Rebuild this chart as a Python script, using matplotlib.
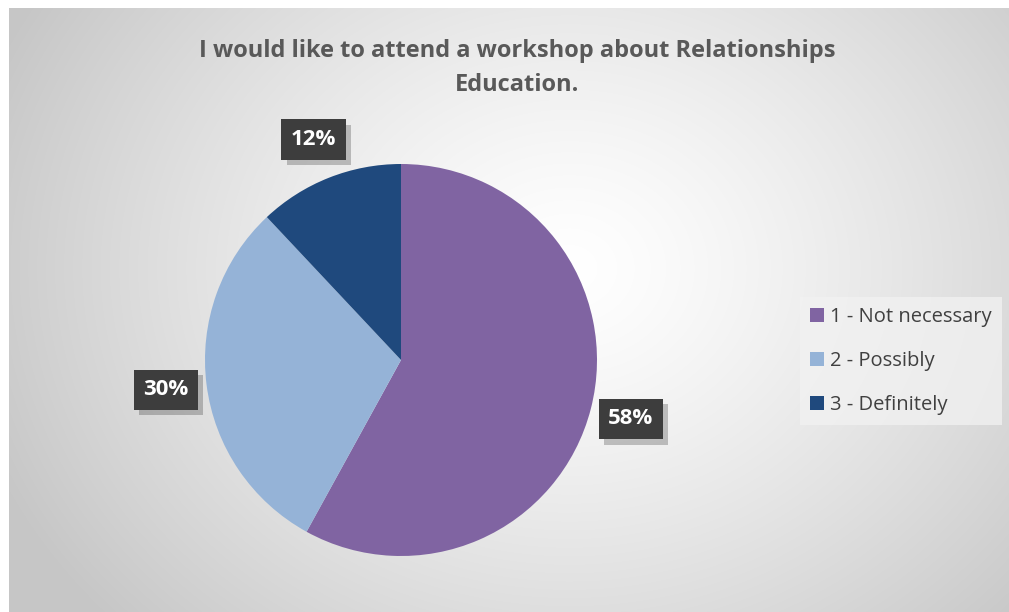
import numpy as np
import matplotlib
matplotlib.use("Agg")
import matplotlib.pyplot as plt
from matplotlib.patches import Patch
import matplotlib.patheffects as pe

title = "I would like to attend a workshop about Relationships\nEducation."
categories = ["1 - Not necessary", "2 - Possibly", "3 - Definitely"]
values = [58, 30, 12]
colors = ["#8064A2", "#95B3D7", "#1F497D"]

FONT = "Open Sans"
W, H = 1009, 612
fig = plt.figure(figsize=(W / 100, H / 100), dpi=100)
fig.patch.set_facecolor("white")

# background radial gradient
bg = fig.add_axes([9 / W, 0, 1 - 9 / W, (H - 8) / H])
bg.set_axis_off()
yy, xx = np.mgrid[0:604, 0:1000]
cx, cy = 560, 260
r = np.sqrt(((xx - cx) / 620.0) ** 2 + ((yy - cy) / 520.0) ** 2)
r = np.clip(r, 0, 1)
v = 1.0 - 0.22 * r ** 1.3
img = np.dstack([v, v, v])
bg.imshow(img, aspect="auto", extent=[0, 1, 0, 1], origin="upper")
bg.set_xlim(0, 1)
bg.set_ylim(0, 1)

fig.text(0.5125, 1 - 68 / H, title, ha="center", va="center",
         fontsize=17, fontweight="bold", color="#595959", family=FONT,
         linespacing=1.55)

R = 196
cxp, cyp = 401, 360
ax = fig.add_axes([(cxp - R) / W, (H - cyp - R) / H, 2 * R / W, 2 * R / H])
ax.set_axis_off()
wedges, texts, autotexts = ax.pie(values, colors=colors, startangle=90, counterclock=False,
                                  autopct=lambda p: f"{p:.0f}%", pctdistance=1.21, radius=1,
                                  wedgeprops=dict(linewidth=0))
ax.set_xlim(-1, 1)
ax.set_ylim(-1, 1)

for t in autotexts:
    t.set_color("white")
    t.set_fontweight("bold")
    t.set_fontsize(16)
    t.set_family(FONT)
    t.set_bbox(dict(boxstyle="square,pad=0.43", facecolor="#3D3D3D", linewidth=0))
    t.set_zorder(5)
    t.get_bbox_patch().set_path_effects(
        [pe.SimplePatchShadow(offset=(4, -4), shadow_rgbFace="black", alpha=0.22), pe.Normal()])

handles = [Patch(facecolor=c, edgecolor="none") for c in colors]
leg = fig.legend(handles, categories, loc="center left",
                 bbox_to_anchor=(800 / W, 1 - 361 / H), frameon=True,
                 prop=dict(family=FONT, size=14.5),
                 handlelength=0.7, handleheight=0.7, handletextpad=0.3,
                 labelspacing=1.2, borderpad=0.5, borderaxespad=0, fancybox=False)
leg.get_frame().set_facecolor("#F2F2F2")
leg.get_frame().set_alpha(0.75)
leg.get_frame().set_linewidth(0)
for txt in leg.get_texts():
    txt.set_color("#404040")

fig.savefig("out.png", dpi=100, facecolor="white")
